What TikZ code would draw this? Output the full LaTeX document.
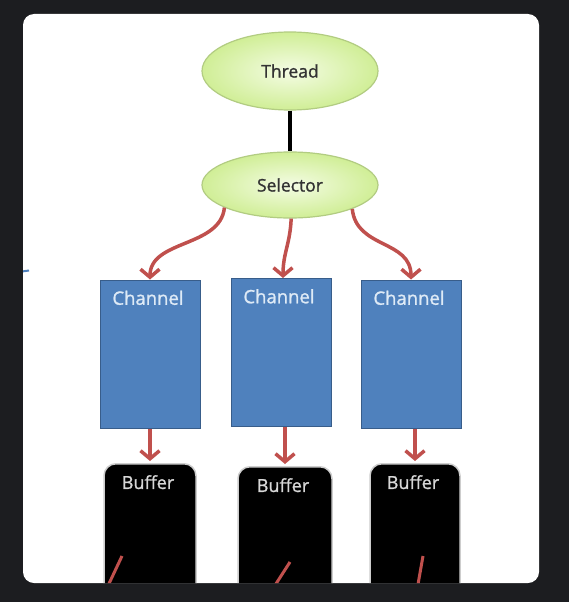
\documentclass[tikz,border=0pt]{standalone}
\usepackage{fontspec}
\setmainfont{Open Sans}
\newfontfamily\lblfont{Open Sans}[FakeBold=1.2]
\usetikzlibrary{shapes.geometric,arrows.meta,calc}
\definecolor{bgdark}{RGB}{28,29,32}
\definecolor{redarr}{RGB}{192,80,77}
\definecolor{chfill}{RGB}{79,129,189}
\definecolor{chdraw}{RGB}{56,93,138}
\definecolor{chtext}{RGB}{222,234,246}
\definecolor{elin}{RGB}{244,252,228}
\definecolor{elout}{RGB}{208,238,150}
\definecolor{eldraw}{RGB}{178,204,130}
\definecolor{buftext}{RGB}{215,215,215}
\definecolor{bufedge}{RGB}{205,205,205}
\tikzset{
  ell/.style={ellipse, draw=eldraw, line width=1.2pt, inner color=elin, outer color=elout, inner sep=0pt, minimum width=176pt, font=\lblfont\fontsize{17.5}{19}\selectfont, text=black!80},
  chbox/.style={rectangle, draw=chdraw, line width=1pt, fill=chfill, inner sep=0pt, minimum width=100pt, minimum height=148pt},
  chlabel/.style={anchor=north, inner sep=0pt, yshift=-11pt, xshift=-2pt, text=chtext, font=\lblfont\fontsize{18.5}{20}\selectfont},
  bufbox/.style={rectangle, rounded corners=12pt, draw=bufedge, line width=1.5pt, fill=black, inner sep=0pt, minimum height=135pt},
  buflabel/.style={anchor=north, inner sep=0pt, yshift=-12pt, xshift=-2pt, text=buftext, font=\lblfont\fontsize{18}{20}\selectfont},
  redarrow/.style={draw=redarr, line width=3.5pt, -{Straight Barb[length=8pt,width=19pt,line width=3.5pt]}},
  redline/.style={draw=redarr, line width=3pt}
}
\begin{document}
\begin{tikzpicture}[x=1pt,y=-1pt]
\useasboundingbox (0,0) rectangle (569,602);
\fill[bgdark] (0,0) rectangle (569,602);
\fill[white, rounded corners=11pt] (23,14) rectangle (539,583);
\begin{scope}
\clip[rounded corners=11pt] (23,14) rectangle (539,583);
% blue mark
\draw[chfill, line width=2pt] (22,271.5) -- (29,270.5);
% nodes
\node[ell, minimum height=78pt] (thread) at (290,71) {Thread};
\node[ell, minimum height=66pt] (sel) at (290,185) {Selector};
\node[chbox, label={[chlabel]north:Channel}] (ch1) at (150,354) {};
\node[chbox, label={[chlabel]north:Channel}] (ch2) at (281,352.5) {};
\node[chbox, label={[chlabel]north:Channel}] (ch3) at (411,354) {};
\node[bufbox, minimum width=92pt, anchor=north, label={[buflabel]north:Buffer}] (b1) at (150,463) {};
\node[bufbox, minimum width=94pt, anchor=north, label={[buflabel]north:Buffer}] (b2) at (285,466) {};
\node[bufbox, minimum width=90pt, anchor=north, label={[buflabel]north:Buffer}] (b3) at (415,463) {};
% connectors
\draw[line width=4pt] (thread.south) -- (sel.north);
\draw[redarrow] (sel.199) .. controls +(-4,40) and +(0,-40) .. (ch1.north);
\draw[redarrow] (sel.272) .. controls +(-1,25) and +(0,-25) .. ([xshift=2pt]ch2.north);
\draw[redarrow] (sel.339) .. controls +(4,40) and +(0,-40) .. (ch3.north);
\draw[redarrow, shorten >=2pt] (ch1.south) -- (b1.north);
\draw[redarrow, shorten >=2pt] ([xshift=4pt]ch2.south) -- (b2.north);
\draw[redarrow, shorten >=2pt] ([xshift=4pt]ch3.south) -- (b3.north);
% partial lines at the bottom
\coordinate (e1) at (106,590);
\coordinate (e2) at (272,590);
\coordinate (e3) at (417,590);
\draw[redline] ($(b1.north)+(-28,93)$) -- (e1);
\draw[redline] ($(b2.north)+(5,96)$) -- (e2);
\draw[redline] ($(b3.north)+(8,93)$) -- (e3);
\end{scope}
\end{tikzpicture}
\end{document}
